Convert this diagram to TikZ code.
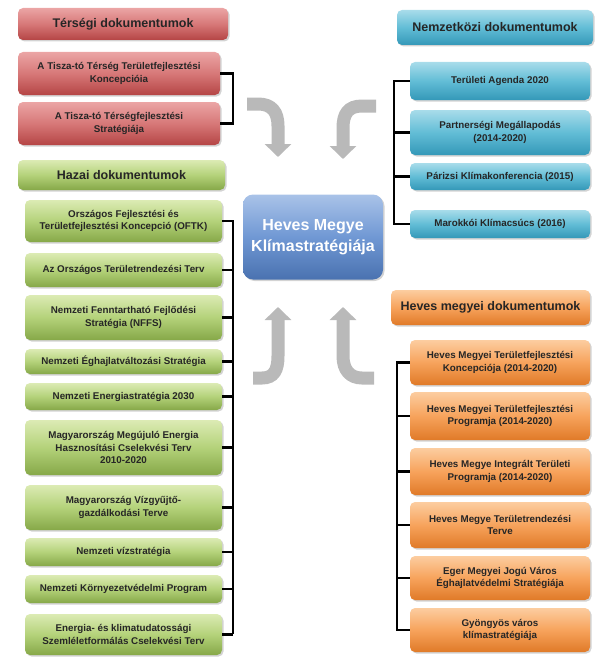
\documentclass[tikz,border=0pt]{standalone}
\usepackage{fontspec}
\setmainfont{Liberation Sans}
\usetikzlibrary{arrows.meta,shadows}
\definecolor{rT}{HTML}{EBA5A5}\definecolor{rM}{HTML}{D77878}\definecolor{rB}{HTML}{B54545}
\definecolor{gT}{HTML}{DCEBB4}\definecolor{gM}{HTML}{B4D27A}\definecolor{gB}{HTML}{86A848}
\definecolor{bT}{HTML}{A8DCEA}\definecolor{bM}{HTML}{62BDD6}\definecolor{bB}{HTML}{3498B8}
\definecolor{oT}{HTML}{FCCDA0}\definecolor{oM}{HTML}{F7A35C}\definecolor{oB}{HTML}{E07A28}
\definecolor{cT}{HTML}{A9C3E8}\definecolor{cM}{HTML}{7098D4}\definecolor{cB}{HTML}{4A72B0}
\begin{document}
\begin{tikzpicture}[x=1pt,y=-1pt,
 base/.style={rounded corners=5pt,draw=none,drop shadow={opacity=0.35,shadow xshift=1.5pt,shadow yshift=-1.5pt},font=\bfseries\fontsize{9.8}{12.5}\selectfont,align=center,inner sep=1pt,text=black!85},
 red/.style={base,top color=rT,bottom color=rB,middle color=rM},
 grn/.style={base,top color=gT,bottom color=gB,middle color=gM},
 blu/.style={base,top color=bT,bottom color=bB,middle color=bM},
 org/.style={base,top color=oT,bottom color=oB,middle color=oM},
 hdr/.style={font=\bfseries\fontsize{12.5}{14}\selectfont},
 conn/.style={line width=2.2pt,black},
 barrow/.style={line width=13pt,gray!55,-{Triangle[length=13pt,width=26pt]}}]
\useasboundingbox (0,0) rectangle (605,669);
\newcommand\bx[6]{\node[#1,minimum width=#4-#3,minimum height=#6-#5] (#2) at ({(#3+#4)/2},{(#5+#6)/2})}
% red
\bx{red,hdr}{rh}{18}{228}{8}{40}{Térségi dokumentumok};
\bx{red}{r1}{18}{220}{52}{95}{A Tisza-tó Térség Területfejlesztési\\Koncepcióia};
\bx{red}{r2}{18}{220}{102}{145}{A Tisza-tó Térségfejlesztési\\Stratégiája};
\draw[conn] (r1.east) -- ++(13,0) |- (r2.east);
% green
\bx{grn,hdr}{gh}{18}{225}{160}{190}{Hazai dokumentumok};
\bx{grn}{g1}{25}{222}{200}{242}{Országos Fejlesztési és\\Területfejlesztési Koncepció (OFTK)};
\bx{grn}{g2}{25}{222}{253}{287}{Az Országos Területrendezési Terv};
\bx{grn}{g3}{25}{222}{295}{340}{Nemzeti Fenntartható Fejlődési\\Stratégia (NFFS)};
\bx{grn}{g4}{25}{222}{349}{374}{Nemzeti Éghajlatváltozási Stratégia};
\bx{grn}{g5}{25}{222}{383}{410}{Nemzeti Energiastratégia 2030};
\bx{grn}{g6}{25}{222}{420}{475}{Magyarország Megújuló Energia\\Hasznosítási Cselekvési Terv\\2010-2020};
\bx{grn}{g7}{25}{222}{485}{530}{Magyarország Vízgyűjtő-\\gazdálkodási Terve};
\bx{grn}{g8}{25}{222}{538}{566}{Nemzeti vízstratégia};
\bx{grn}{g9}{25}{222}{575}{603}{Nemzeti Környezetvédelmi Program};
\bx{grn}{g10}{25}{222}{614}{655}{Energia- és klimatudatossági\\Szemléletformálás Cselekvési Terv};
\coordinate (gt) at (233,221);
\coordinate (gb) at (233,634);
\draw[conn] (g1.east) -| (gb);
\foreach \n in {g2,g3,g4,g5,g6,g7,g8,g9,g10} \draw[conn] (\n.east) -- (\n.east -| gt);
% blue
\bx{blu,hdr}{bh}{397}{593}{10}{45}{Nemzetközi dokumentumok};
\bx{blu}{b1}{410}{590}{62}{100}{Területi Agenda 2020};
\bx{blu}{b2}{410}{590}{110}{155}{Partnerségi Megállapodás\\(2014-2020)};
\bx{blu}{b3}{410}{590}{163}{190}{Párizsi Klímakonferencia (2015)};
\bx{blu}{b4}{410}{590}{210}{238}{Marokkói Klímacsúcs (2016)};
\coordinate (bl) at (394,0);
\draw[conn] (b1.west) -- (b1.west -| bl) |- (b4.west);
\foreach \n in {b2,b3} \draw[conn] (\n.west) -- (\n.west -| bl);
% orange
\bx{org,hdr}{oh}{391}{590}{290}{325}{Heves megyei dokumentumok};
\bx{org}{o1}{410}{590}{340}{385}{Heves Megyei Területfejlesztési\\Koncepciója (2014-2020)};
\bx{org}{o2}{410}{590}{392}{440}{Heves Megyei Területfejlesztési\\Programja (2014-2020)};
\bx{org}{o3}{410}{590}{448}{495}{Heves Megye Integrált Területi\\Programja (2014-2020)};
\bx{org}{o4}{410}{590}{502}{548}{Heves Megye Területrendezési\\Terve};
\bx{org}{o5}{410}{590}{556}{600}{Eger Megyei Jogú Város\\Éghajlatvédelmi Stratégiája};
\bx{org}{o6}{410}{590}{608}{652}{Gyöngyös város\\klímastratégiája};
\coordinate (ol) at (397,0);
\draw[conn] (o1.west) -- (o1.west -| ol) |- (o6.west);
\foreach \n in {o2,o3,o4,o5} \draw[conn] (\n.west) -- (\n.west -| ol);
% center
\node[base,rounded corners=10pt,top color=cT,bottom color=cB,middle color=cM,text=white,font=\bfseries\fontsize{16}{21}\selectfont,minimum width=140,minimum height=85] (c) at (313,237) {Heves Megye\\Klímastratégiája};
% block arrows
\draw[barrow] (247,104) -- (258,104) .. controls (272,104) and (278,112) .. (278,126) -- (278,157);
\draw[barrow] (376,106) -- (362,106) .. controls (348,106) and (343,114) .. (343,128) -- (343,159);
\draw[barrow] (253,378) -- (262,378) .. controls (274,378) and (278,370) .. (278,356) -- (278,307);
\draw[barrow] (374,378) -- (362,378) .. controls (350,378) and (343,370) .. (343,356) -- (343,307);
\end{tikzpicture}
\end{document}
